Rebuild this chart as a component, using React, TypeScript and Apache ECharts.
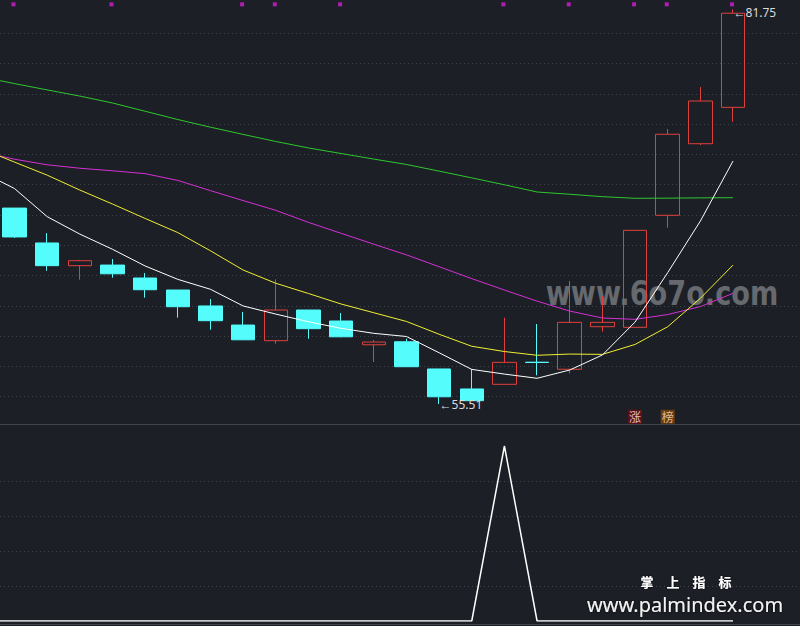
import { useEffect, useRef } from 'react';
import * as echarts from 'echarts';

// session slots: slot 0 lies just off the left edge (only the averages show there), 1..23 are the visible sessions
const days = [0, 1, 2, 3, 4, 5, 6, 7, 8, 9, 10, 11, 12, 13, 14, 15, 16, 17, 18, 19, 20, 21, 22, 23];

// visible sessions 1..23
const opens  = [68.54, 66.22, 64.71, 64.75, 63.89, 63.09, 62.03, 60.76, 59.72, 61.76, 61.03, 59.45, 59.65, 57.84, 56.51, 56.82, 58.29, 57.82, 60.65, 60.61, 68.06, 72.82, 75.24];
const closes = [66.62, 64.71, 65.04, 64.17, 63.11, 61.98, 61.05, 59.78, 61.76, 60.52, 59.98, 59.63, 57.99, 55.99, 55.73, 58.28, 58.27, 60.94, 60.94, 67.06, 73.45, 75.66, 81.50];
const lows   = [66.55, 64.37, 63.78, 63.91, 62.58, 61.25, 60.45, 59.76, 59.52, 59.85, 59.95, 58.30, 57.97, 55.51, 55.70, 56.80, 57.42, 57.55, 60.32, 60.61, 67.23, 72.73, 74.28];
const highs  = [68.54, 66.88, 65.09, 65.15, 64.22, 63.09, 62.49, 61.63, 63.80, 61.76, 61.56, 59.76, 59.85, 57.84, 57.84, 61.25, 60.83, 63.69, 62.69, 67.06, 73.80, 76.59, 81.75];

// moving averages, slots 0..23
const ma5  = [70.94, 69.84, 67.97, 66.81, 65.80, 64.69, 63.80, 63.14, 62.03, 61.49, 60.98, 60.54, 60.21, 60.00, 58.92, 57.81, 57.50, 57.22, 57.77, 58.77, 60.96, 64.25, 67.68, 71.67];
const ma10 = [72.47, 71.60, 70.73, 69.74, 68.81, 67.85, 66.91, 65.70, 64.42, 63.54, 62.86, 62.16, 61.58, 61.00, 60.15, 59.35, 59.00, 58.75, 58.83, 58.81, 59.47, 60.65, 62.54, 64.75];
const ma20 = [72.27, 71.79, 71.42, 71.19, 71.02, 70.83, 70.38, 69.70, 69.04, 68.39, 67.59, 66.86, 66.14, 65.43, 64.64, 63.85, 63.09, 62.35, 61.69, 61.23, 61.14, 61.46, 61.99, 62.87];
const ma60 = [77.26, 76.82, 76.40, 75.99, 75.53, 74.98, 74.43, 73.92, 73.44, 72.97, 72.54, 72.17, 71.80, 71.44, 71.00, 70.55, 70.09, 69.61, 69.46, 69.30, 69.19, 69.20, 69.22, 69.23];

// lower panel signal, slots 0..23
const signal = [0, 0, 0, 0, 0, 0, 0, 0, 0, 0, 0, 0, 0, 0, 0, 0, 1, 0, 0, 0, 0, 0, 0, 0];

// top magenta markers (session numbers)
const markDays = [1, 4, 8, 9, 11, 16, 18, 20, 21, 23];
// tags at the bottom of the price panel
const tagDays = [20, 21];
const tagTexts = ['涨', '榜'];
const tagFills = ['#6e0c14', '#7a4512'];
const tagInk = ['#ffe6e6', '#ffdca8'];

const PRICE_MIN = 53.98;
const PRICE_MAX = 82.18;
const MARK_LEVEL = 82.09;
const TAG_LEVEL = 54.66;
const X_MIN = 0.556;
const X_MAX = 25.05;

const BG = '#1c1f26';
const GRID_DOT = '#40444d';

export default function App() {
  const ref = useRef<HTMLDivElement>(null);
  useEffect(() => {
    if (!ref.current) return;
    const chart = echarts.init(ref.current, undefined, { renderer: 'svg' });
    const candles = opens.map((o, i) => [days[i + 1], o, closes[i], lows[i], highs[i]]);
    const pair = (arr: number[]) => arr.map((v, i) => [days[i], v]);

    const hiddenSplit = (min: number, max: number, interval: number, gridIndex: number) => ({
      type: 'value', gridIndex, min, max, interval,
      axisLine: { show: false }, axisTick: { show: false }, axisLabel: { show: false },
      splitLine: { show: true, showMinLine: false, showMaxLine: false, lineStyle: { color: GRID_DOT, type: [1, 3], width: 1 } },
    });

    const maLine = (name: string, data: number[], color: string) => ({
      name, type: 'line', xAxisIndex: 0, yAxisIndex: 0, data: pair(data), showSymbol: false, symbol: 'none',
      lineStyle: { color, width: 1 }, z: 3, silent: true,
    });

    const option: any = {
      animation: false,
      backgroundColor: BG,
      textStyle: { fontFamily: 'Noto Sans' },
      grid: [
        { left: 0, right: 0, top: 3, height: 424 },
        { left: 0, right: 0, top: 446, height: 175 },
      ],
      xAxis: [
        { type: 'value', min: X_MIN, max: X_MAX, gridIndex: 0, show: false },
        { type: 'value', min: X_MIN, max: X_MAX, gridIndex: 1, show: false },
      ],
      yAxis: [
        { type: 'value', gridIndex: 0, min: PRICE_MIN, max: PRICE_MAX, show: false },
        hiddenSplit(0, 14, 1, 0),
        hiddenSplit(0, 1, 0.2, 1),
      ],
      graphic: [
        { type: 'text', x: 662, y: 293, scaleX: 0.8, z: 0, silent: true,
          style: { text: 'www.6o7o.com', fill: '#66696e', font: 'bold 34px "DejaVu Sans"', textAlign: 'center', textVerticalAlign: 'middle' } },
        { type: 'line', shape: { x1: 0, y1: 424.5, x2: 800, y2: 424.5 }, style: { stroke: '#3f444d', lineWidth: 1 }, z: 1 },
        { type: 'line', shape: { x1: 0, y1: 624.5, x2: 800, y2: 624.5 }, style: { stroke: '#3f444d', lineWidth: 1 }, z: 1 },
        { type: 'text', x: 686, y: 581, z: 10,
          style: { text: '掌　上　指　标', fill: '#ffffff', font: 'bold 13px "Noto Sans CJK SC"', lineHeight: 14, textAlign: 'center', textVerticalAlign: 'middle', textShadowColor: '#000', textShadowBlur: 2 } },
        { type: 'text', x: 685, y: 604.5, z: 10,
          style: { text: 'www.palmindex.com', fill: '#f2f2f2', font: '20px "Noto Sans"', lineHeight: 20, textAlign: 'center', textVerticalAlign: 'middle', textShadowColor: '#000', textShadowBlur: 2 } },
      ],
      series: [
        {
          name: 'K', type: 'candlestick', xAxisIndex: 0, yAxisIndex: 0, barWidth: 24, z: 2,
          dimensions: ['day', 'open', 'close', 'lowest', 'highest'],
          encode: { x: 'day', y: ['open', 'close', 'lowest', 'highest'] },
          data: candles,
          itemStyle: { color: 'transparent', color0: '#54fcfc', borderColor: '#e0403c', borderColor0: '#54fcfc', borderWidth: 1 },
          markPoint: {
            symbol: 'circle', symbolSize: 1, itemStyle: { color: 'rgba(0,0,0,0)' }, silent: true,
            label: { show: true, position: 'right', distance: 0, color: '#dcdcdc', fontSize: 12, fontFamily: 'Noto Sans',
              formatter: (p: any) => '←' + p.value },
            data: [
              { type: 'max', valueDim: 'highest', label: { offset: [0, 3] } },
              { type: 'min', valueDim: 'lowest', label: { offset: [0, 1] } },
            ],
          },
        },
        maLine('MA60', ma60, '#2fc72f'),
        maLine('MA20', ma20, '#d630d6'),
        maLine('MA10', ma10, '#f0f032'),
        maLine('MA5', ma5, '#ffffff'),
        {
          name: 'marks', type: 'scatter', xAxisIndex: 0, yAxisIndex: 0, symbol: 'rect', symbolSize: 4, symbolOffset: [-1, 0],
          itemStyle: { color: '#d21fd6' }, z: 4, clip: false,
          data: markDays.map((d) => [d, MARK_LEVEL]),
        },
        {
          name: 'tags', type: 'scatter', xAxisIndex: 0, yAxisIndex: 0, symbol: 'rect', symbolSize: [14, 14], z: 4, clip: false,
          data: tagDays.map((d, i) => ({
            value: [d, TAG_LEVEL],
            itemStyle: { color: tagFills[i] },
            label: { show: true, position: 'inside', formatter: tagTexts[i], color: tagInk[i], fontSize: 12, fontFamily: 'Noto Sans CJK SC' },
          })),
        },
        {
          name: 'signal', type: 'line', xAxisIndex: 1, yAxisIndex: 2, data: pair(signal), showSymbol: false, symbol: 'none',
          lineStyle: { color: '#ffffff', width: 1.5 },
        },
      ],
    };
    chart.setOption(option);
    return () => chart.dispose();
  }, []);
  return (
    <div style={{ position: 'fixed', left: 0, top: 0, width: 800, height: 626, background: BG }}>
      <div ref={ref} style={{ width: 800, height: 626 }} />
    </div>
  );
}
